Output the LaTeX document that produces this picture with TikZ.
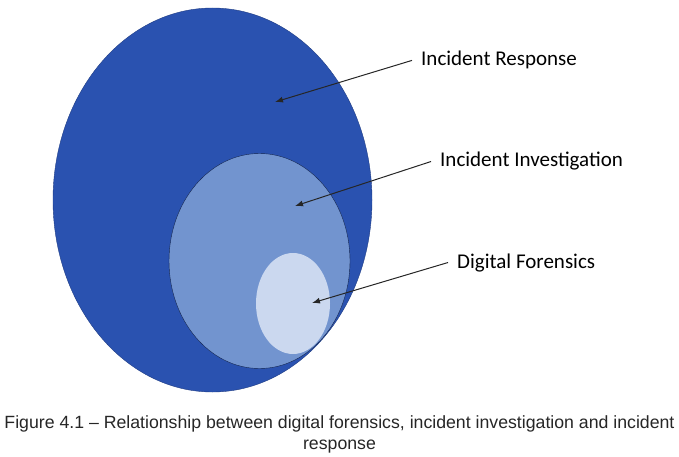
\documentclass[tikz,border=0pt]{standalone}
\usepackage{fontspec}
\setmainfont{Carlito}
\newfontfamily\capfont{Liberation Sans}
\usetikzlibrary{arrows,arrows.meta,positioning,shapes.geometric}
\definecolor{outerblue}{HTML}{2A52B0}
\definecolor{midblue}{HTML}{7294CF}
\definecolor{paleblue}{HTML}{CBD8EF}

\tikzset{
  area/.style={ellipse, inner sep=0pt},
  lbl/.style={anchor=base west, inner xsep=9pt, inner ysep=2pt, font=\fontsize{21}{25}\selectfont},
  ptr/.style={-{Latex[length=8pt,width=6pt]}, line width=1pt, black!85}
}

\begin{document}
\begin{tikzpicture}[x=1pt,y=-1pt]
    \useasboundingbox (0,0) rectangle (679,457);

    % nested areas
    \node [area, fill=outerblue, draw=outerblue!75!black, minimum width=319pt, minimum height=384pt] (resp) at (212.5,200) {};
    \node [area, fill=midblue, draw=outerblue!45!black, minimum width=181pt, minimum height=215pt] (inv) at (259.5,261) {};
    \node [area, fill=paleblue, minimum width=74pt, minimum height=101pt] (fore) at (293,303.5) {};

    \coordinate (tresp) at (275,102);
    \coordinate (tinv) at (295,206);
    \coordinate (tfore) at (312,303);

    \node [lbl] (lresp) at (412,66) {Incident Response};
    \node [lbl] (linv) at (431,167) {Incident Investigation};
    \node [lbl] (lfore) at (448,268) {Digital Forensics};

    \draw [ptr] (lresp.west) -- (tresp);
    \draw [ptr] (linv.west) -- (tinv);
    \draw [ptr] (lfore.west) -- (tfore);

    \node [anchor=north, inner sep=0pt, align=center, text=black!85, font=\capfont\fontsize{17.7}{21.5}\selectfont] (cap) at (339.5,415)
      {Figure 4.1 – Relationship between digital forensics, incident investigation and incident\\ response};
\end{tikzpicture}
\end{document}
